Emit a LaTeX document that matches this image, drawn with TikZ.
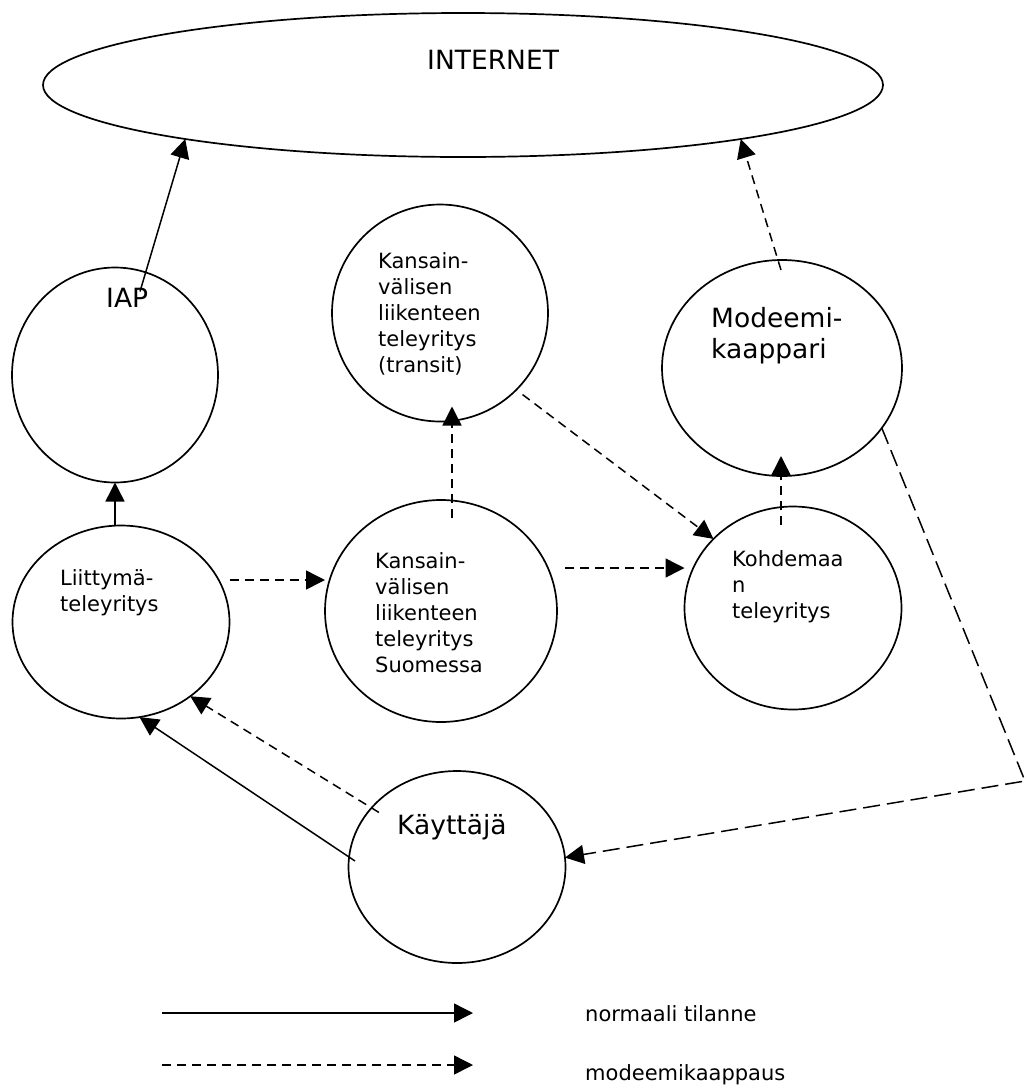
\documentclass[tikz,border=0pt]{standalone}
\usepackage{fontspec}
\setmainfont{DejaVu Sans}
\usetikzlibrary{shapes.geometric,arrows.meta,calc}

\tikzset{
  party/.style={draw,ellipse,line width=1.7pt,inner sep=0pt,outer sep=0pt},
  normal/.style={line width=1.5pt,-{Triangle[length=19pt,width=19pt]}},
  hijack/.style={normal,dash pattern=on 9pt off 6pt},
  longhijack/.style={normal,dash pattern=on 17pt off 7pt},
  txt/.style={font=\fontsize{21}{26}\selectfont,align=left,inner sep=0pt},
  bigtxt/.style={font=\fontsize{26.5}{31}\selectfont,align=left,inner sep=0pt}
}

\begin{document}
\begin{tikzpicture}[x=1pt,y=-1pt]
\useasboundingbox (0,0) rectangle (1029,1088);
% parties
\node[party,minimum width=840pt,minimum height=144pt] (internet) at (463,85) {};
\node[party,minimum width=206pt,minimum height=215pt] (iap) at (115,375) {};
\node[party,minimum width=216pt,minimum height=217pt] (transit) at (440,313) {};
\node[party,minimum width=240pt,minimum height=216pt] (modeemi) at (782,368) {};
\node[party,minimum width=217pt,minimum height=193pt] (liitt) at (121,622) {};
\node[party,minimum width=232pt,minimum height=222pt] (suomi) at (441,611) {};
\node[party,minimum width=217pt,minimum height=203pt] (kohde) at (793,608) {};
\node[party,minimum width=217pt,minimum height=192pt] (kayt) at (457,867) {};
% labels
\node[bigtxt,anchor=base west] (internettxt) at (427,69) {INTERNET};
\node[bigtxt,anchor=base west] (iaptxt) at (106,307) {IAP};
\node[bigtxt,anchor=north west] (modeemitxt) at (711,307) {Modeemi-\\kaappari};
\node[bigtxt,anchor=base west] (kayttxt) at (397,834) {Käyttäjä};
\node[txt,anchor=north west] (transittxt) at (378,252) {Kansain-\\välisen\\liikenteen\\teleyritys\\(transit)};
\node[txt,anchor=north west] (liitttxt) at (60,569) {Liittymä-\\teleyritys};
\node[txt,anchor=north west] (suomitxt) at (375,552) {Kansain-\\välisen\\liikenteen\\teleyritys\\Suomessa};
\node[txt,anchor=north west] (kohdetxt) at (732,550) {Kohdemaa\\n\\teleyritys};
% normal traffic
\draw[normal] ([xshift=25pt,yshift=-24pt]iap.north) -- (internet.191);
\draw[normal] (iap.south |- liitt.north) -- (iap.south);
\draw[normal] ([shift={(6.5pt,6pt)}]kayt.west) -- (liitt.-79);
% modem hijack
\draw[hijack] ([xshift=-1pt,yshift=-10pt]modeemi.north) -- (internet.-11);
\draw[hijack] ([yshift=42pt]liitt.east) -- ([yshift=31pt]suomi.west);
\draw[hijack] ([xshift=11pt,yshift=-18pt]suomi.north) -- ([xshift=12pt,yshift=15pt]transit.south);
\draw[hijack] ([shift={(6pt,-5pt)}]transit.-45) -- (kohde.139);
\draw[hijack] ([xshift=8pt,yshift=43pt]suomi.east) -- ([yshift=40pt]kohde.west);
\draw[hijack] ([xshift=-12pt,yshift=-18pt]kohde.north) -- ([xshift=-1pt,yshift=20pt]modeemi.south);
\draw[hijack] ([shift={(7pt,-5pt)}]kayt.145) -- (liitt.-47);
\coordinate (bend) at (1025,781);
\draw[longhijack] (modeemi.-31) -- (bend) -- (kayt.5);
% legend
\coordinate (solidA) at (162,1013);
\coordinate (solidB) at (473,1013);
\coordinate (dashA) at (162,1065);
\coordinate (dashB) at (473,1065);
\draw[normal] (solidA) -- (solidB);
\draw[hijack] (dashA) -- (dashB);
\node[txt,anchor=base west] (normaltxt) at (585,1021) {normaali tilanne};
\node[txt,anchor=base west] (hijacktxt) at (585,1080) {modeemikaappaus};
\end{tikzpicture}
\end{document}
